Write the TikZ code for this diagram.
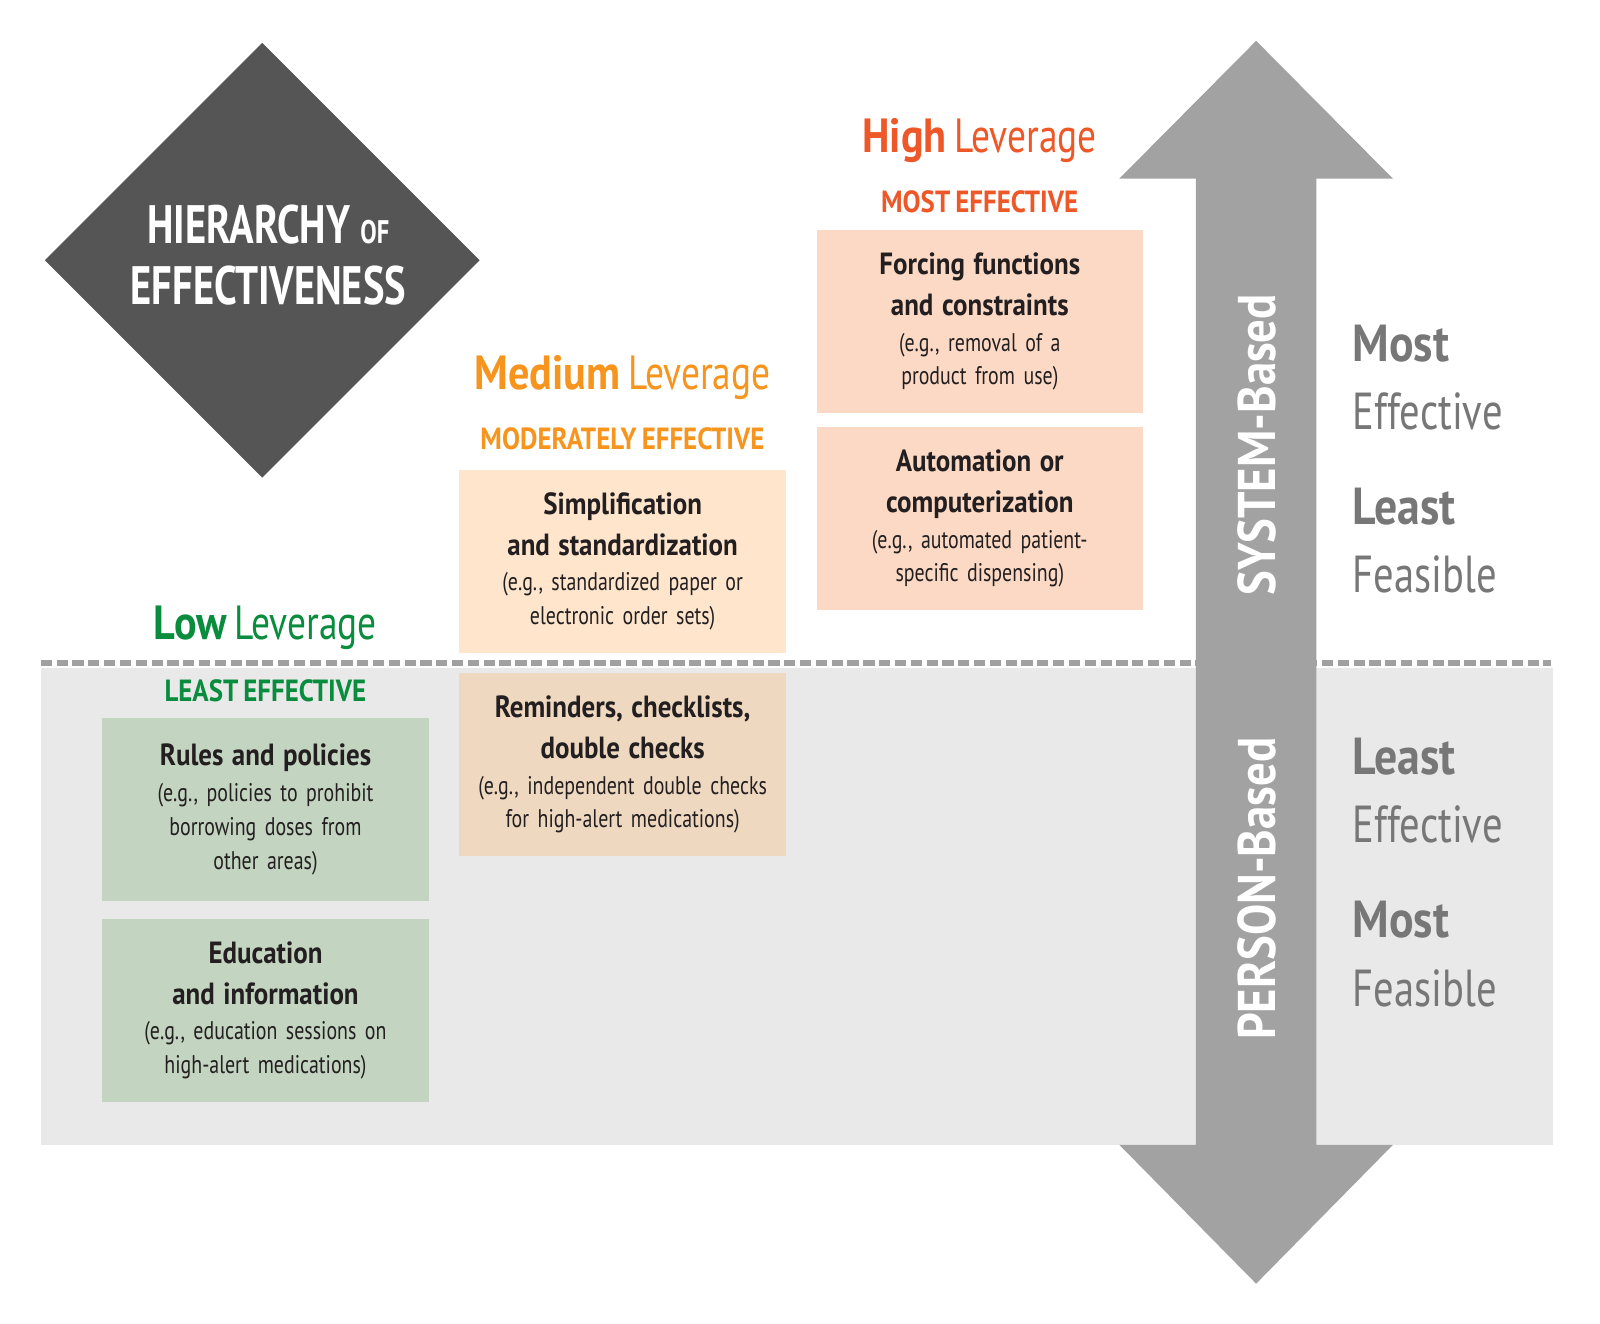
\documentclass[tikz,border=0pt]{standalone}
\usepackage{fontspec}
\setmainfont{PT Sans}[FakeStretch=0.78, WordSpace=0.75, BoldFeatures={FakeStretch=0.88}]
\newfontfamily\titlefont{PT Sans}[FakeStretch=0.75]
\definecolor{diamondgray}{RGB}{85,85,85}
\definecolor{arrowgray}{RGB}{162,162,162}
\definecolor{bandgray}{RGB}{233,233,233}
\definecolor{dashgray}{RGB}{160,160,160}
\definecolor{labelgray}{RGB}{119,119,119}
\definecolor{textdark}{RGB}{35,31,32}
\definecolor{lowgreen}{RGB}{10,140,62}
\definecolor{medorange}{RGB}{247,148,29}
\definecolor{highred}{RGB}{238,88,40}
\definecolor{highfill}{RGB}{251,217,196}
\definecolor{medfill}{RGB}{254,229,204}
\definecolor{remfill}{RGB}{238,216,192}
\definecolor{lowfill}{RGB}{195,212,193}
\tikzset{
  lever/.style={font=\fontsize{47}{52}\selectfont},
  effect/.style={font=\bfseries\fontsize{30}{34}\selectfont},
  item/.style={fill=#1, minimum width=320pt, minimum height=180pt, inner sep=0pt,
    text width=316pt, anchor=north west, align=center, text=textdark,
    font=\fontsize{25}{33}\selectfont},
  side/.style={anchor=west, text=labelgray, align=left, font=\fontsize{51}{67}\selectfont},
  axis/.style={rotate=90, text=white, font=\bfseries\fontsize{52}{56}\selectfont}
}
\newcommand{\itembold}[1]{{\bfseries\fontsize{30}{33}\selectfont #1}}
\begin{document}
\begin{tikzpicture}[x=1pt, y=-1pt]
  \useasboundingbox (0,0) rectangle (1568,1297);
  % person-based band and the split line
  \fill[bandgray] (40,655) rectangle (1522,1122);
  \draw[dashgray, line width=5.5pt, dash pattern=on 11pt off 4.5pt] (40,650) -- (1520,650);
  % title diamond
  \fill[diamondgray] (257,42) -- (470,255) -- (257,468) -- (44,255) -- cycle;
  \node[text=white, align=center, font=\titlefont\bfseries\fontsize{53}{60}\selectfont] (title) at (263,250)
    {HIERARCHY {\fontsize{32}{36}\selectfont OF}\\ EFFECTIVENESS};
  % double arrow
  \fill[arrowgray] (1172,175) -- (1097,175) -- (1231,40) -- (1365,175) -- (1290,175)
    -- (1290,1122) -- (1365,1122) -- (1231,1258) -- (1097,1122) -- (1172,1122) -- cycle;
  \node[axis] (system) at (1232,436) {SYSTEM-Based};
  \node[axis] (person) at (1232,871) {PERSON-Based};
  % high leverage
  \node[lever, text=highred] (high) at (960,138) {{\bfseries High} Leverage};
  \node[effect, text=highred] (most) at (960,198) {MOST EFFECTIVE};
  \node[item=highfill] (forcing) at (800,225)
    {\itembold{Forcing functions}\\[7pt] \itembold{and constraints}\\[2pt]
     (e.g., removal of a\\ product from use)};
  \node[item=highfill] (auto) at (800,418)
    {\itembold{Automation or}\\[7pt] \itembold{computerization}\\[2pt]
     (e.g., automated patient-\\ specific dispensing)};
  % medium leverage
  \node[lever, text=medorange] (medium) at (610,370) {{\bfseries Medium} Leverage};
  \node[effect, text=medorange] (moderate) at (610,430) {MODERATELY EFFECTIVE};
  \node[item=medfill] (simple) at (450,460)
    {\itembold{Simplification}\\[7pt] \itembold{and standardization}\\[2pt]
     (e.g., standardized paper or\\ electronic order sets)};
  \node[item=remfill] (remind) at (450,659)
    {\itembold{Reminders, checklists,}\\[7pt] \itembold{double checks}\\[2pt]
     (e.g., independent double checks\\ for high-alert medications)};
  % low leverage
  \node[lever, text=lowgreen] (low) at (260,615) {{\bfseries Low} Leverage};
  \node[effect, text=lowgreen] (least) at (260,677) {LEAST EFFECTIVE};
  \node[item=lowfill] (rules) at (100,703)
    {\itembold{Rules and policies}\\[2pt]
     (e.g., policies to prohibit\\ borrowing doses from\\ other areas)};
  \node[item=lowfill] (educ) at (100,900)
    {\itembold{Education}\\[7pt] \itembold{and information}\\[2pt]
     (e.g., education sessions on\\ high-alert medications)};
  % side labels
  \node[side] (upper) at (1322,450) {{\bfseries Most}\\ Effective\\[26pt] {\bfseries Least}\\ Feasible};
  \node[side] (lower) at (1322,855) {{\bfseries Least}\\ Effective\\[26pt] {\bfseries Most}\\ Feasible};
\end{tikzpicture}
\end{document}
